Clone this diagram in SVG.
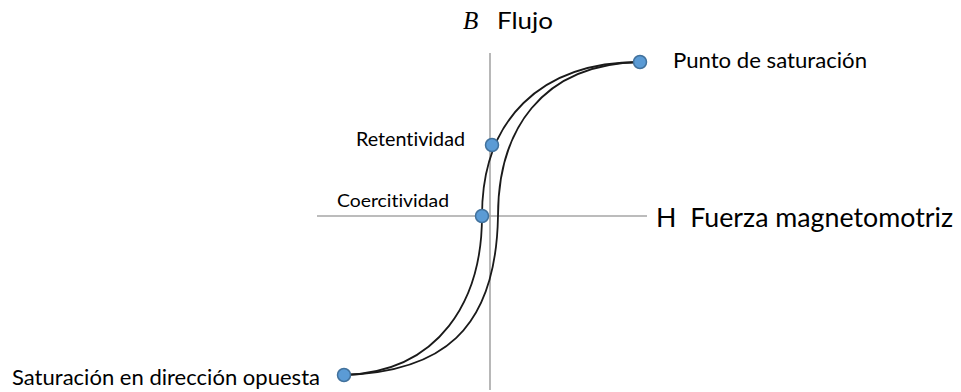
<svg xmlns="http://www.w3.org/2000/svg" width="961" height="392" viewBox="0 0 961 392">
  <style>
    .axis { stroke: #A6A6A6; stroke-width: 1.6; fill: none; }
    .curve { stroke: #1a1a1a; stroke-width: 1.8; fill: none; stroke-linecap: round; }
    .dot { fill: #5B9BD5; stroke: #41719C; stroke-width: 1.5; }
    .lbl { font-family: Lato, "Open Sans", "Liberation Sans", sans-serif; fill: #000; font-variant-ligatures: none; white-space: pre; }
    .math { font-family: "Liberation Serif", "DejaVu Serif", serif; font-style: italic; fill: #000; }
  </style>
  <rect width="961" height="392" fill="#ffffff"/>
  <g id="axes">
    <line class="axis" x1="490" y1="53" x2="490" y2="390"/>
    <line class="axis" x1="317" y1="216" x2="647" y2="216"/>
    <text class="math" x="463" y="29" font-size="25">B</text>
    <text class="lbl" x="497" y="29" font-size="23" textLength="56" lengthAdjust="spacingAndGlyphs">Flujo</text>
    <text class="lbl" x="656" y="227" font-size="26.5" textLength="297" lengthAdjust="spacingAndGlyphs" xml:space="preserve">H  Fuerza magnetomotriz</text>
  </g>
  <g id="connectors">
    <path class="curve" d="M344,375 C440,372 482,300 482,216 C482,120 540,62 640,62"/>
    <path class="curve" d="M344,375 C440,372 496,332 498,216 C498,132 540,64 640,62"/>
  </g>
  <g id="node-saturacion">
    <circle class="dot" cx="640" cy="62" r="6.5"/>
    <text class="lbl" x="673" y="68" font-size="21" textLength="194" lengthAdjust="spacingAndGlyphs">Punto de saturación</text>
  </g>
  <g id="node-retentividad">
    <circle class="dot" cx="492" cy="145" r="6.5"/>
    <text class="lbl" x="356" y="146" font-size="18.5" textLength="109" lengthAdjust="spacingAndGlyphs">Retentividad</text>
  </g>
  <g id="node-coercitividad">
    <circle class="dot" cx="482" cy="216" r="6.5"/>
    <text class="lbl" x="337" y="207" font-size="18" textLength="112" lengthAdjust="spacingAndGlyphs">Coercitividad</text>
  </g>
  <g id="node-saturacion-opuesta">
    <circle class="dot" cx="344" cy="375" r="6.5"/>
    <text class="lbl" x="12" y="385" font-size="22" textLength="308" lengthAdjust="spacingAndGlyphs">Saturación en dirección opuesta</text>
  </g>
</svg>
